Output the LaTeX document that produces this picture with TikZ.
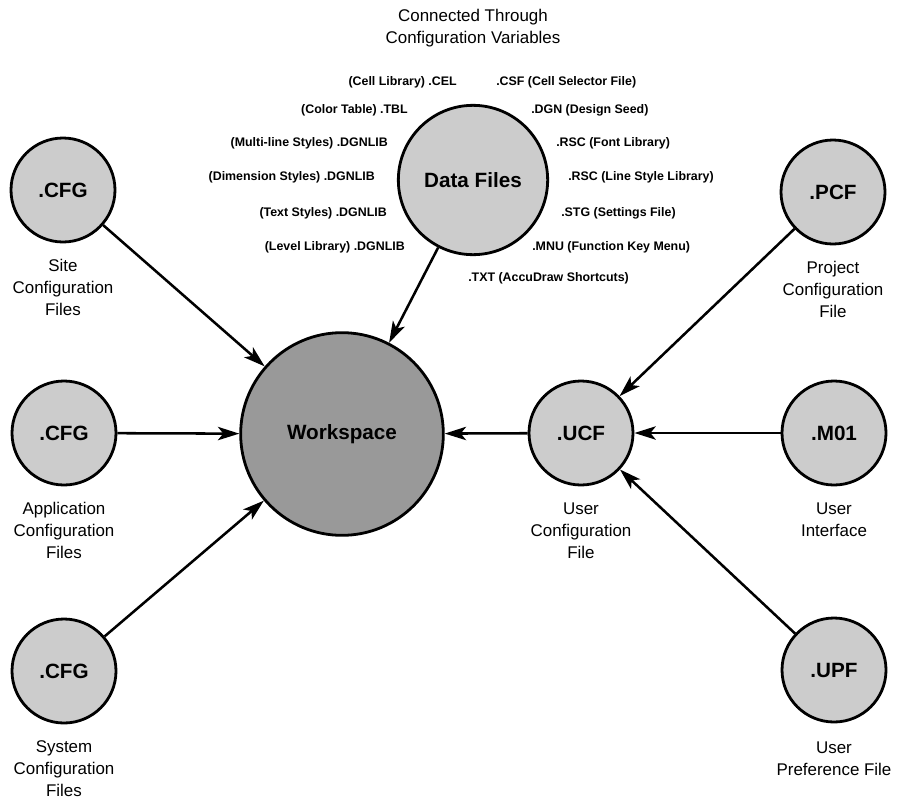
\documentclass[tikz,border=0pt]{standalone}
\usepackage{fontspec}
\setmainfont{Liberation Sans}
\usetikzlibrary{arrows.meta,positioning}

\tikzset{
  filecircle/.style={circle, draw, line width=2.1pt, fill=black!20, minimum size=78pt,
    inner sep=0pt, font=\fontsize{15.5}{18}\selectfont\bfseries},
  hubcircle/.style={filecircle, fill=black!40, minimum size=152pt},
  datacircle/.style={filecircle, minimum size=112pt},
  caption/.style={align=center, inner sep=0pt, font=\fontsize{12.7}{16.5}\selectfont},
  fileleft/.style={anchor=east, inner sep=0pt, font=\fontsize{9.3}{11}\selectfont\bfseries},
  fileright/.style={fileleft, anchor=west},
  feed/.style={-{Stealth[length=16pt, width=10pt, inset=4pt]}, line width=1.9pt}
}

\begin{document}
\begin{tikzpicture}[x=0.75pt, y=-0.75pt]
\useasboundingbox (0,0) rectangle (912,803);

% Main circles
\node[hubcircle] (workspace) at (342,434) {Workspace};
\node[datacircle] (datafiles) at (473,180) {Data Files};

% Configuration files on the left
\node[filecircle] (sitecfg) at (63,190) {.CFG};
\node[filecircle] (appcfg) at (64,433) {.CFG};
\node[filecircle] (syscfg) at (64,671) {.CFG};

% User side on the right
\node[filecircle] (ucf) at (581,433) {.UCF};
\node[filecircle] (pcf) at (833,192) {.PCF};
\node[filecircle] (mnu) at (834,433) {.M01};
\node[filecircle] (upf) at (834,670) {.UPF};

% Captions
\node[caption, below=12pt of sitecfg] (sitecap) {Site\\Configuration\\Files};
\node[caption, below=12pt of appcfg] (appcap) {Application\\Configuration\\Files};
\node[caption, below=12pt of syscfg] (syscap) {System\\Configuration\\Files};
\node[caption, below=12pt of pcf] (pcfcap) {Project\\Configuration\\File};
\node[caption, below=12pt of ucf] (ucfcap) {User\\Configuration\\File};
\node[caption, below=12pt of mnu] (mnucap) {User\\Interface};
\node[caption, below=14pt of upf] (upfcap) {User\\Preference File};

\node[caption] (title) at (473,28) {Connected Through\\Configuration Variables};

% Data file types
\foreach \x/\y/\txt [count=\i] in {
    457/82/{(Cell Library) .CEL},
    408/110/{(Color Table) .TBL},
    388/143/{(Multi-line Styles) .DGNLIB},
    375/177/{(Dimension Styles) .DGNLIB},
    387/213/{(Text Styles) .DGNLIB},
    405/247/{(Level Library) .DGNLIB}} {
  \node[fileleft] (dl\i) at (\x,\y) {\txt};
}
\foreach \x/\y/\txt [count=\i] in {
    496/82/{.CSF (Cell Selector File)},
    531/110/{.DGN (Design Seed)},
    556/143/{.RSC (Font Library)},
    568/177/{.RSC (Line Style Library)},
    561/213/{.STG (Settings File)},
    532/247/{.MNU (Function Key Menu)},
    468/278/{.TXT (AccuDraw Shortcuts)}} {
  \node[fileright] (dr\i) at (\x,\y) {\txt};
}

% Arrows
\draw[feed] (sitecfg) -- (workspace);
\draw[feed] (appcfg) -- (workspace);
\draw[feed] (syscfg) -- (workspace);
\draw[feed] (datafiles) -- (workspace);
\draw[feed] (ucf) -- (workspace);
\draw[feed] (pcf) -- (ucf);
\draw[feed] (mnu) -- (ucf);
\draw[feed] (upf) -- (ucf);

\end{tikzpicture}
\end{document}
